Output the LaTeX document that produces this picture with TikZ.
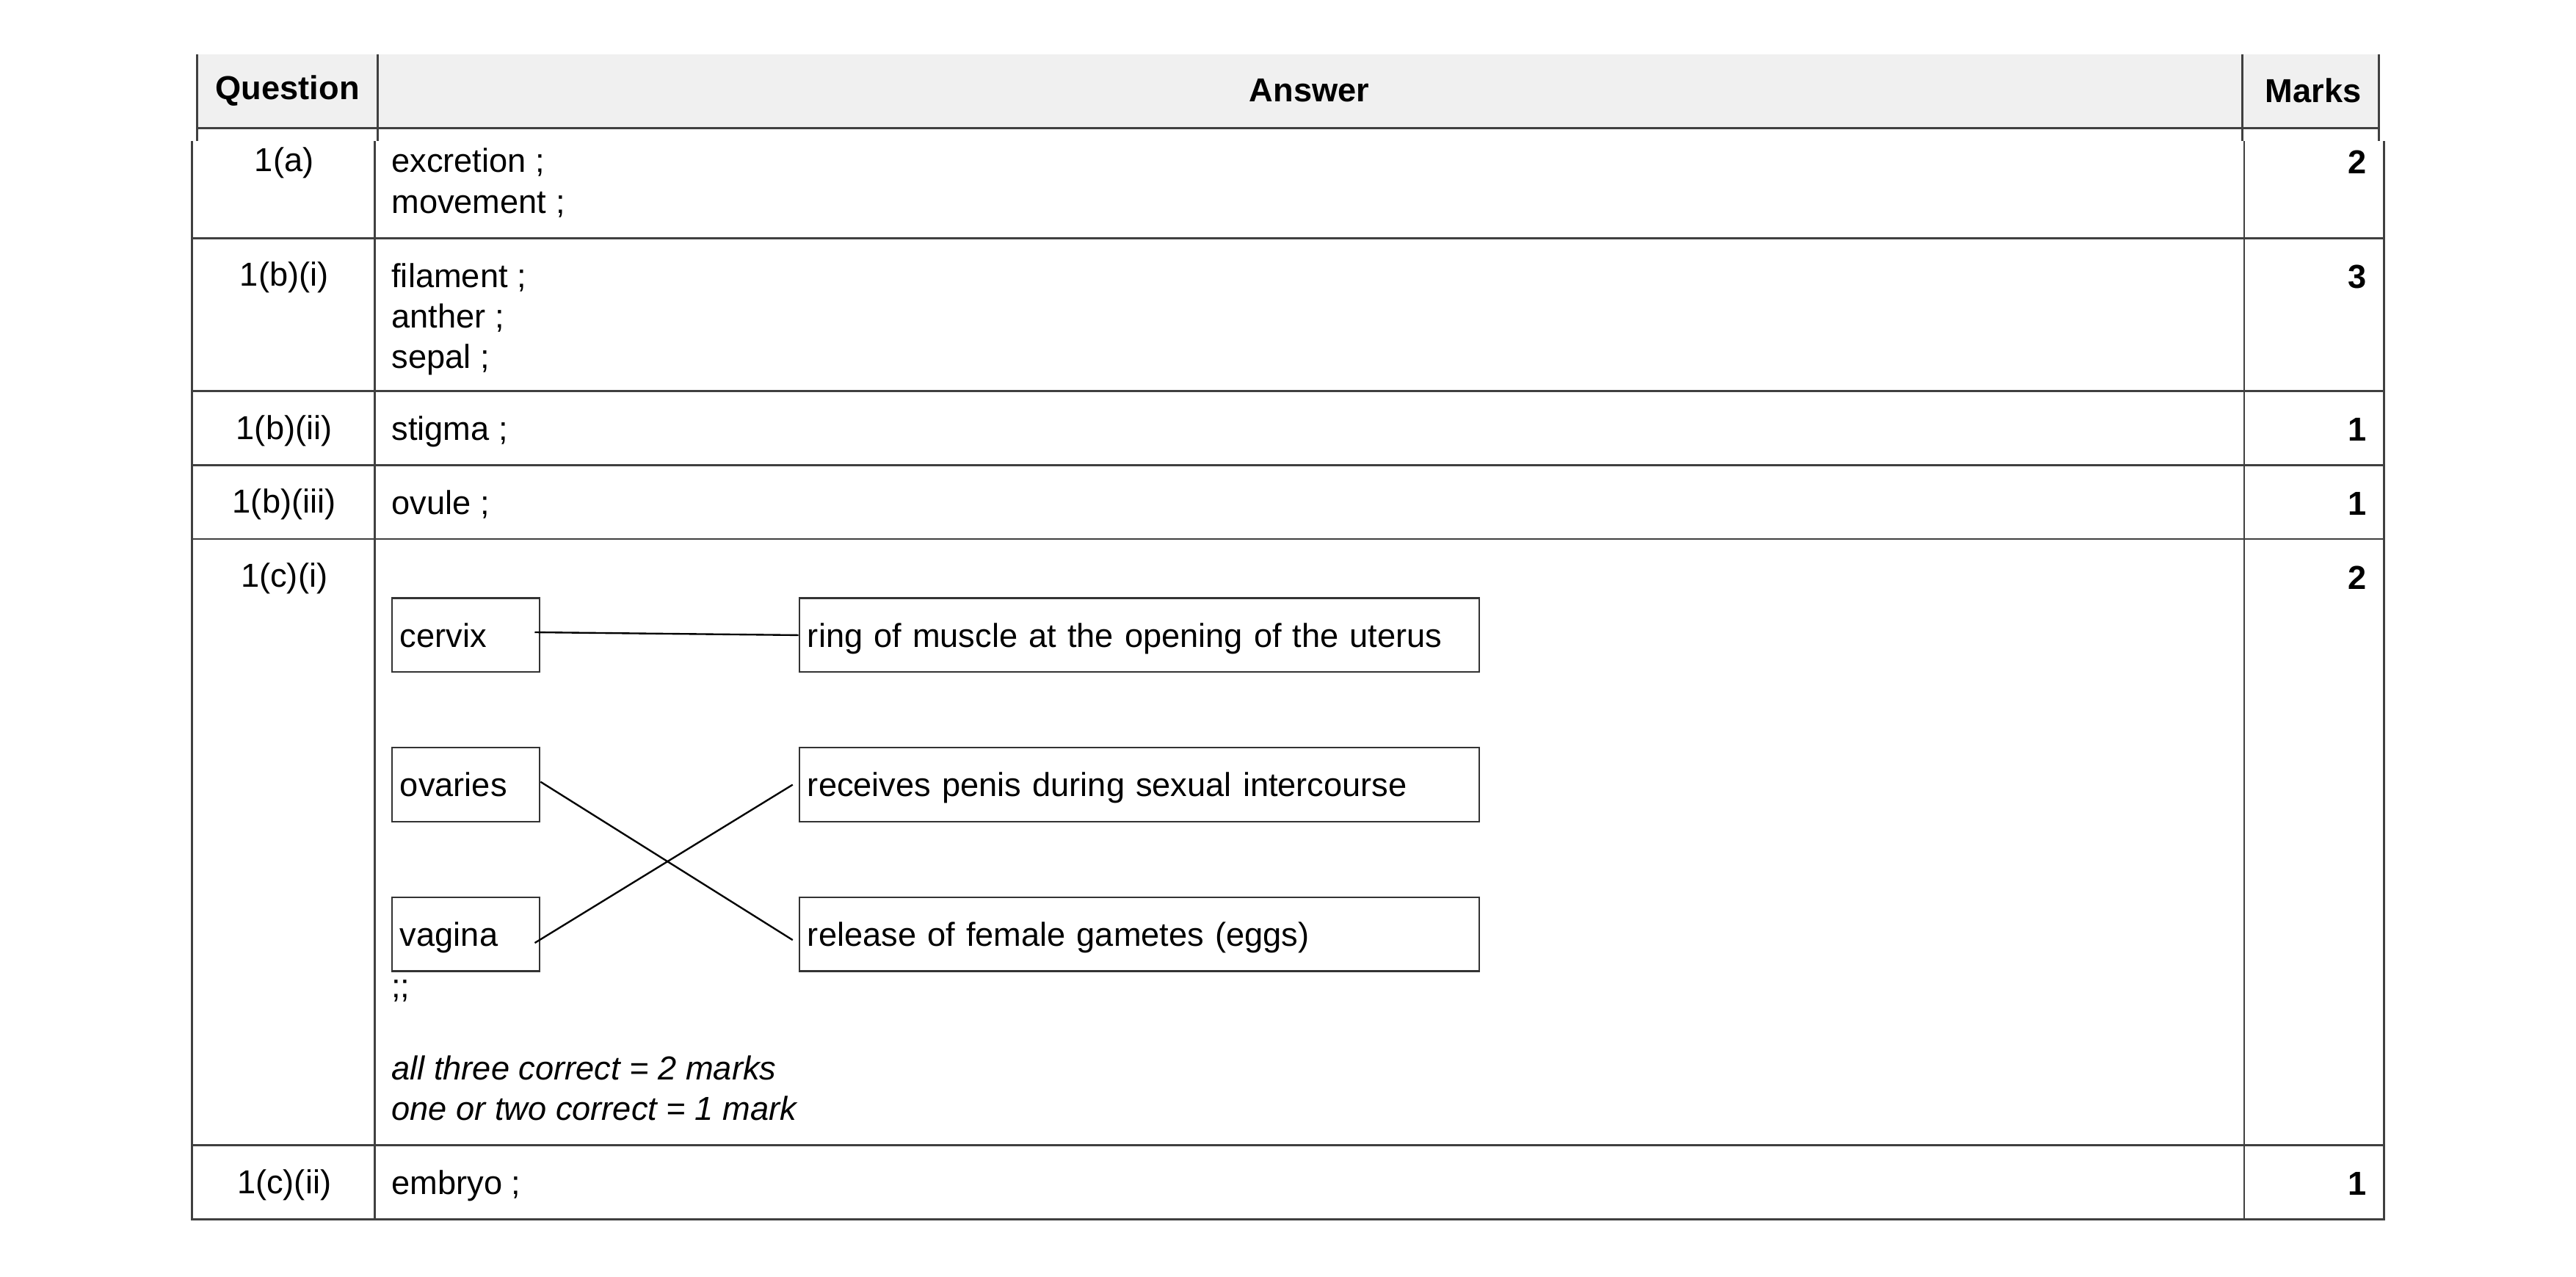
\documentclass[tikz,border=0pt]{standalone}
\usepackage{fontspec}
\setmainfont{Liberation Sans}
\begin{document}
\begin{tikzpicture}[x=0.02cm,y=-0.02cm,
  tl/.style={line width=0.7pt,draw=black!75},
  q/.style={anchor=center,font=\fontsize{11.5}{14}\selectfont},
  a/.style={anchor=north west,align=left,inner sep=0pt,font=\fontsize{11.5}{14}\selectfont},
  m/.style={anchor=north east,inner sep=0pt,font=\fontsize{11.5}{14}\selectfont\bfseries},
  bx/.style={draw=black!80,line width=0.6pt,anchor=west,minimum height=0.9cm,inner sep=0pt,font=\fontsize{11.5}{14}\selectfont,text depth=0pt},
  ln/.style={line width=0.6pt}]
\useasboundingbox (0,0) rectangle (1568,777);
% header
\fill[black!6] (120,33) rectangle (1448,78);
\draw[tl] (120,33)--(120,86) (230,33)--(230,86) (1365,33)--(1365,86) (1448,33)--(1448,86);
\draw[tl] (120,78)--(1448,78);
\node[font=\fontsize{11.5}{14}\selectfont\bfseries] (hq) at (175,55) {Question};
\node[font=\fontsize{11.5}{14}\selectfont\bfseries] (ha) at (797,55) {Answer};
\node[font=\fontsize{11.5}{14}\selectfont\bfseries] (hm) at (1408,55) {Marks};
% body
\draw[tl] (117,86)--(117,742)--(1451,742)--(1451,86);
\draw[tl] (228,86)--(228,742) (1366,86)--(1366,742);
\foreach \y in {145,238,283,328,697} \draw[tl] (117,\y)--(1451,\y);
% questions
\node[q] (q1) at (173,99) {1(a)};
\node[q] (q2) at (173,169) {1(b)(i)};
\node[q] (q3) at (173,262) {1(b)(ii)};
\node[q] (q4) at (173,307) {1(b)(iii)};
\node[q] (q5) at (173,352) {1(c)(i)};
\node[q] (q6) at (173,721) {1(c)(ii)};
% answers
\node[a] (a1) at (238,90) {excretion ;\\movement ;};
\node[a] (a2) at (238,160) {filament ;\\anther ;\\sepal ;};
\node[a] (a3) at (238,253) {stigma ;};
\node[a] (a4) at (238,298) {ovule ;};
\node[a] (a5) at (238,596) {;;};
\node[a] (a6) at (238,642) {\itshape all three correct = 2 marks\\\itshape one or two correct = 1 mark};
\node[a] (a7) at (238,712) {embryo ;};
% marks
\node[m] (m1) at (1441,91) {2};
\node[m] (m2) at (1441,161) {3};
\node[m] (m3) at (1441,254) {1};
\node[m] (m4) at (1441,299) {1};
\node[m] (m5) at (1441,344) {2};
\node[m] (m6) at (1441,713) {1};
% boxes
\node[bx,minimum width=1.8cm,text width=1.6cm,align=left] (cx) at (238,386.5) {cervix};
\node[bx,minimum width=1.8cm,text width=1.6cm,align=left] (ov) at (238,477.5) {ovaries};
\node[bx,minimum width=1.8cm,text width=1.6cm,align=left] (vg) at (238,568.5) {vagina};
\node[bx,minimum width=8.28cm,text width=8.08cm,align=left] (r1) at (486,386.5) {ring of muscle at the opening of the uterus};
\node[bx,minimum width=8.28cm,text width=8.08cm,align=left] (r2) at (486,477.5) {receives penis during sexual intercourse};
\node[bx,minimum width=8.28cm,text width=8.08cm,align=left] (r3) at (486,568.5) {release of female gametes (eggs)};
\draw[ln] ([xshift=-2pt,yshift=1pt]cx.east) -- (r1.west);
\draw[ln] ([yshift=1pt]ov.east) -- ([xshift=-2pt,yshift=-2pt]r3.west);
\draw[ln] ([xshift=-2pt,yshift=-3pt]vg.east) -- ([xshift=-2pt]r2.west);
\end{tikzpicture}
\end{document}
